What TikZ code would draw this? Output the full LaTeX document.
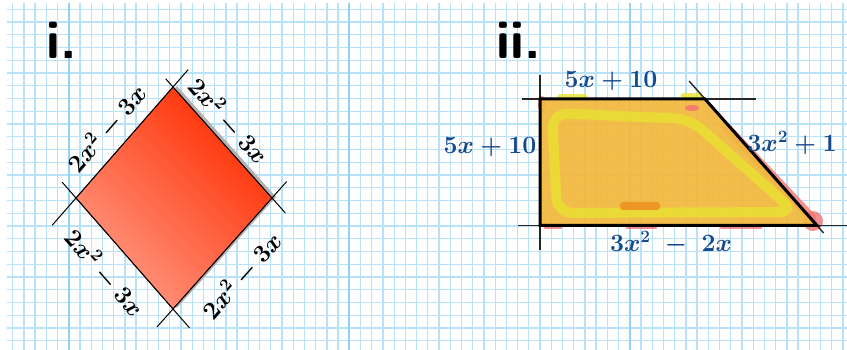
\documentclass[tikz,border=0pt]{standalone}
\usetikzlibrary{calc}
\definecolor{gridblue}{RGB}{185,226,249}
\definecolor{gridmajor}{RGB}{150,210,244}
\definecolor{handblue}{RGB}{22,72,140}
\definecolor{redlight}{RGB}{255,152,130}
\definecolor{reddark}{RGB}{255,45,0}
\definecolor{edgered}{RGB}{110,25,15}
\definecolor{orangefill}{RGB}{242,184,60}
\definecolor{yellowband}{RGB}{232,230,45}
\definecolor{pinkblot}{RGB}{242,118,115}
\definecolor{orangeblob}{RGB}{238,150,35}
\tikzset{
  gridline/.style={gridblue, line width=1.3pt},
  gridmaj/.style={gridmajor, line width=2.2pt},
  blacklab/.style={black, font=\fontsize{24}{27}\selectfont\boldmath, inner sep=0pt},
  bluelab/.style={handblue, font=\fontsize{25}{28}\selectfont\boldmath, inner sep=0pt},
  romanlab/.style={black, font=\fontsize{54}{58}\selectfont\sffamily\bfseries, inner sep=0pt},
  extline/.style={black, line width=1pt},
  extlineb/.style={black!85, line width=1.4pt},
  thickedge/.style={black, line width=3pt, line join=miter},
}
\begin{document}
\begin{tikzpicture}[x=1pt,y=-1pt]
\useasboundingbox (0,0) rectangle (847,350);
\fill[white] (0,0) rectangle (847,350);
% grid
\foreach \k in {0,...,74} \draw[gridline] ({12.7+11.22*\k},3) -- ({12.7+11.22*\k},350);
\foreach \k in {0,...,26} \draw[gridline] (7,{9.3+12.75*\k}) -- (847,{9.3+12.75*\k});
\foreach \k in {5,30,55} \draw[gridmaj] ({12.7+11.22*\k},3) -- ({12.7+11.22*\k},350);

% ---------- figure i ----------
\node[romanlab] (ri) at (62,40) {i.};
\coordinate (dT) at (173,87);
\coordinate (dL) at (76,198);
\coordinate (dR) at (272,198);
\coordinate (dB) at (173,309);
\fill[black!30] ($(dT)+(4,-1)$) -- ($(dR)+(4,-1)$) -- ($(dB)+(4,-1)$) -- ($(dL)+(4,-1)$) -- cycle;
\shade[top color=redlight, bottom color=reddark, shading angle=135]
  (dT) -- (dR) -- (dB) -- (dL) -- cycle;
\draw[edgered, line width=0.8pt] (dT) -- (dR) -- (dB) -- (dL) -- cycle;
\draw[extline] ($(dL)!-36pt!(dT)$) -- ($(dT)!-23pt!(dL)$);
\draw[extline] ($(dT)!-11pt!(dR)$) -- ($(dR)!-20pt!(dT)$);
\draw[extline] ($(dL)!-21pt!(dB)$) -- ($(dB)!-25pt!(dL)$);
\draw[extline] ($(dB)!-24pt!(dR)$) -- ($(dR)!-22pt!(dB)$);
\node[blacklab, rotate=48.85] (lTL) at (107,129) {$2x^2 - 3x$};
\node[blacklab, rotate=-48.3] (lTR) at (228,121) {$2x^2 - 3x$};
\node[blacklab, rotate=-48.85] (lBL) at (104,273) {$2x^2 - 3x$};
\node[blacklab, rotate=48.3] (lBR) at (242,276) {$2x^2 - 3x$};

% ---------- figure ii ----------
\node[romanlab] (rii) at (519,40) {ii.};
\coordinate (qTL) at (540,99);
\coordinate (qTR) at (705,99);
\coordinate (qBR) at (817,225.5);
\coordinate (qBL) at (540,225.5);
% pink blots
\draw[pinkblot, line width=9pt, line cap=round, opacity=0.8] (727,128) -- (812,218);
\fill[pinkblot, opacity=0.8] (813,221) circle (10);
\draw[pinkblot, line width=5pt, line cap=round, opacity=0.8] (546,227) -- (560,227);
\draw[pinkblot, line width=5pt, line cap=round, opacity=0.8] (628,227) -- (655,227);
\draw[pinkblot, line width=5pt, line cap=round, opacity=0.8] (722,227) -- (760,227);
\fill[pinkblot, opacity=0.8] (542,104) ellipse (4 and 8);
% orange fill
\fill[orangefill, opacity=0.92] (qTL) -- (qTR) -- (qBR) -- (qBL) -- cycle;
% yellow band
\draw[yellowband, line width=10pt, rounded corners=16pt, opacity=0.7]
  (552,113) -- (690,119) -- (795,212) -- (557,213) -- cycle;
\draw[yellowband, line width=5pt, line cap=round, opacity=0.8] (560,97) -- (585,97);
\draw[yellowband, line width=5pt, line cap=round, opacity=0.8] (683,96) -- (700,96);
\fill[pinkblot, opacity=0.85] (692,108) ellipse (7 and 3);
\fill[orangeblob, rounded corners=3pt] (620,202) rectangle (660,210);
% construction lines
\draw[extlineb] ($(qTL)+(-18,0)$) -- ($(qTR)+(51,0)$);
\draw[extlineb] ($(qTL)+(0,-24)$) -- ($(qBL)+(0,25)$);
\draw[extlineb] ($(qBL)+(-22,0)$) -- ($(qBR)+(30,0)$);
\draw[extlineb] ($(qTR)!-24pt!(qBR)$) -- ($(qBR)!-10pt!(qTR)$);
% thick edges
\draw[thickedge] (qTL) -- (qTR) -- (qBR) -- (qBL) -- cycle;
% labels
\node[bluelab] (lTop) at (611,81) {$5x + 10$};
\node[bluelab] (lLeft) at (490,147) {$5x + 10$};
\node[bluelab] (lSlant) at (792,143) {$3x^2 + 1$};
\node[bluelab] (lBot) at (671,243) {$3x^2\;-\;2x$};
\end{tikzpicture}
\end{document}
